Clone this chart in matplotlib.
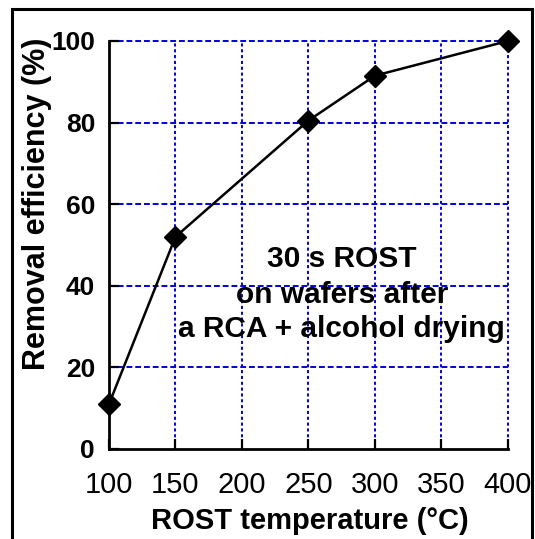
import matplotlib
matplotlib.use('Agg')
import matplotlib.pyplot as plt
from matplotlib.patches import Rectangle

plt.rc('font', family='Liberation Sans')

# data
temperature = [100, 150, 250, 300, 400]
efficiency = [11, 52, 80.5, 91.5, 100]
x_ticks = [100, 150, 200, 250, 300, 350, 400]
y_ticks = [0, 20, 40, 60, 80, 100]
note_lines = ['30 s ROST', 'on wafers after', 'a RCA + alcohol drying']

fig = plt.figure(figsize=(5.35, 5.39), dpi=100)
ax = fig.add_axes([0.2037, 0.167, 0.7458, 0.757])

# outer frame around the whole figure
fig.patches.append(Rectangle((12 / 535, -0.02), 520 / 535, 1 - 9 / 539 + 0.02,
                             transform=fig.transFigure, fill=False,
                             edgecolor='black', linewidth=2.2, clip_on=False))

ax.plot(temperature, efficiency, color='black', linewidth=1.8,
        marker='D', markersize=11, markerfacecolor='black', zorder=5, clip_on=False)

ax.set_xlim(100, 400)
ax.set_ylim(0, 100)
ax.set_xticks(x_ticks)
ax.set_yticks(y_ticks)

# blue dashed grid (drawn by hand so horizontal / vertical differ)
for yv in y_ticks[1:]:
    ax.axhline(yv, color='#0000DD', linewidth=1.4, linestyle=(0, (3, 1.5)), zorder=1, clip_on=False)
for xv in x_ticks[1:]:
    ax.axvline(xv, color='#0000DD', linewidth=1.4, linestyle=(0, (1.6, 1.4)), zorder=1, clip_on=False)

for side in ('top', 'right'):
    ax.spines[side].set_visible(False)
for side in ('left', 'bottom'):
    ax.spines[side].set_linewidth(2)

ax.tick_params(axis='both', direction='in', length=7, width=1.6)
ax.tick_params(axis='x', labelsize=21, pad=16)
ax.tick_params(axis='y', labelsize=19, pad=10)
for lbl in ax.get_yticklabels():
    lbl.set_fontweight('bold')

ax.set_xlabel('ROST temperature (°C)', fontsize=21, fontweight='bold', va='top')
ax.xaxis.set_label_coords(0.504, -0.142)
ax.set_ylabel('Removal efficiency (%)', fontsize=22, fontweight='bold')
ax.yaxis.set_label_coords(-0.143, 0.60)

for line, yy in zip(note_lines, [44.6, 35.8, 27.5]):
    ax.text(275, yy, line, ha='center', va='baseline', fontsize=21.5,
            fontweight='bold', zorder=6)

fig.savefig('out.png', dpi=100)
